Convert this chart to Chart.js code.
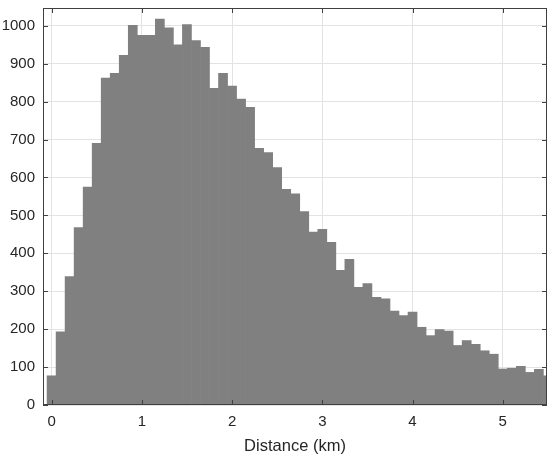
<!DOCTYPE html>
<html>
<head>
<meta charset="utf-8">
<script src="https://cdn.jsdelivr.net/npm/chart.js@4.4.1/dist/chart.umd.min.js"></script>
<style>
  html, body { margin: 0; padding: 0; background: #fff; }
  canvas { display: block; }
</style>
</head>
<body>
<canvas id="histChart" width="550" height="456"></canvas>
<script>
// Histogram bin centres (km), 0.1 km wide bins
const binCenters = [
  0.0, 0.1, 0.2, 0.3, 0.4, 0.5, 0.6, 0.7, 0.8, 0.9,
  1.0, 1.1, 1.2, 1.3, 1.4, 1.5, 1.6, 1.7, 1.8, 1.9,
  2.0, 2.1, 2.2, 2.3, 2.4, 2.5, 2.6, 2.7, 2.8, 2.9,
  3.0, 3.1, 3.2, 3.3, 3.4, 3.5, 3.6, 3.7, 3.8, 3.9,
  4.0, 4.1, 4.2, 4.3, 4.4, 4.5, 4.6, 4.7, 4.8, 4.9,
  5.0, 5.1, 5.2, 5.3, 5.4, 5.5
];

// Counts per bin
const counts = [
  77, 193, 339, 468, 575, 690, 862, 875, 922, 1001,
  975, 975, 1018, 995, 950, 1003, 961, 943, 835, 875,
  841, 807, 785, 677, 666, 626, 569, 557, 510, 456,
  463, 429, 355, 384, 310, 320, 284, 280, 248, 236,
  245, 205, 183, 199, 195, 157, 170, 160, 143, 134,
  95, 97, 102, 86, 94, 77
];

const xTicks = [0, 1, 2, 3, 4, 5];
const yTicks = [0, 100, 200, 300, 400, 500, 600, 700, 800, 900, 1000];

const axisColor = '#404040';
const textColor = '#262626';
const gridColor = '#e3e3e3';
const fontFamily = '"Liberation Sans", Arial, Helvetica, sans-serif';

// MATLAB-like box with inward ticks on all four sides
const boxPlugin = {
  id: 'boxPlugin',
  afterDraw(chart) {
    const { ctx, chartArea: a, scales } = chart;
    const len = 5;
    ctx.save();
    ctx.strokeStyle = axisColor;
    ctx.lineWidth = 1;
    ctx.beginPath();
    xTicks.forEach(function (v) {
      const px = Math.round(scales.x.getPixelForValue(v)) + 0.5;
      ctx.moveTo(px, a.bottom);
      ctx.lineTo(px, a.bottom - len);
      ctx.moveTo(px, a.top);
      ctx.lineTo(px, a.top + len);
    });
    yTicks.forEach(function (v) {
      const py = Math.round(scales.y.getPixelForValue(v)) + 0.5;
      ctx.moveTo(a.left, py);
      ctx.lineTo(a.left + len, py);
      ctx.moveTo(a.right, py);
      ctx.lineTo(a.right - len, py);
    });
    ctx.stroke();
    ctx.strokeRect(Math.round(a.left) + 0.5, Math.round(a.top) + 0.5,
      Math.round(a.right - a.left) - 1, Math.round(a.bottom - a.top) - 1);
    ctx.restore();
  }
};

const ctx = document.getElementById('histChart').getContext('2d');
new Chart(ctx, {
  type: 'bar',
  data: {
    datasets: [{
      data: binCenters.map(function (c, i) { return { x: c, y: counts[i] }; }),
      backgroundColor: '#808080',
      borderWidth: 0,
      barPercentage: 1,
      categoryPercentage: 1
    }]
  },
  options: {
    responsive: false,
    animation: false,
    layout: { padding: { top: 8, right: 3, left: 0, bottom: 0 } },
    plugins: {
      legend: { display: false },
      tooltip: { enabled: false }
    },
    scales: {
      x: {
        type: 'linear',
        offset: false,
        min: -0.095,
        max: 5.49,
        grid: { color: gridColor, drawTicks: false, offset: false },
        border: { display: false },
        ticks: {
          stepSize: 1,
          includeBounds: false,
          color: textColor,
          padding: 8,
          font: { family: fontFamily, size: 15 },
          callback: function (v) { return String(v); }
        },
        title: {
          display: true,
          text: 'Distance (km)',
          color: textColor,
          padding: { top: 2, bottom: 0 },
          font: { family: fontFamily, size: 16.5 }
        },
        afterFit: function (scale) {
          scale.height = 51;
          scale.paddingLeft = 0;
          scale.paddingRight = 0;
        }
      },
      y: {
        min: 0,
        max: 1047,
        grid: { color: gridColor, drawTicks: false },
        border: { display: false },
        ticks: {
          stepSize: 100,
          includeBounds: false,
          color: textColor,
          padding: 8,
          font: { family: fontFamily, size: 15 },
          callback: function (v) { return String(v); }
        },
        afterFit: function (scale) {
          scale.width = 43;
          scale.paddingTop = 0;
          scale.paddingBottom = 0;
        }
      }
    }
  },
  plugins: [boxPlugin]
});
</script>
</body>
</html>
